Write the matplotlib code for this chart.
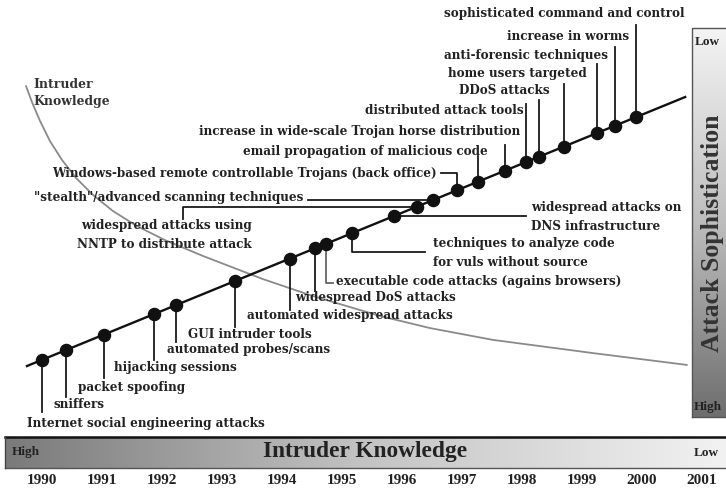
import numpy as np
import matplotlib
matplotlib.use("Agg")
import matplotlib.pyplot as plt
from matplotlib import transforms
from matplotlib.colors import LinearSegmentedColormap

# ---------------- data ----------------
event_labels = [
    "Internet social engineering attacks",
    "sniffers",
    "packet spoofing",
    "hijacking sessions",
    "automated probes/scans",
    "GUI intruder tools",
    "automated widespread attacks",
    "widespread DoS attacks",
    "executable code attacks (agains browsers)",
    "techniques to analyze code\nfor vuls without source",
    "widespread attacks on\nDNS infrastructure",
    "widespread attacks using\nNNTP to distribute attack",
    "\"stealth\"/advanced scanning techniques",
    "Windows-based remote controllable Trojans (back office)",
    "email propagation of malicious code",
    "increase in wide-scale Trojan horse distribution",
    "distributed attack tools",
    "DDoS attacks",
    "home users targeted",
    "anti-forensic techniques",
    "increase in worms",
    "sophisticated command and control",
]
event_years = [1990.0, 1990.4, 1991.03, 1991.87, 1992.23, 1993.22, 1994.13,
               1994.55, 1994.73, 1995.17, 1995.87, 1996.25, 1996.52, 1996.92,
               1997.27, 1997.72, 1998.07, 1998.28, 1998.7, 1999.25, 1999.55,
               1999.9]

# attack sophistication trend (arbitrary units)
trend_years = [1989.75, 2000.72]
trend_levels = [0.0, 100.0]

# intruder knowledge curve (same arbitrary units)
knowledge_years = [1989.733, 1989.833, 1989.967, 1990.133, 1990.333, 1990.567,
                   1990.85, 1991.183, 1991.583, 1992.05, 1992.683, 1993.683,
                   1994.517, 1995.633, 1996.467, 1997.517, 1999.183, 2000.75]
knowledge_levels = [104.1, 98.1, 91.1, 83.6, 76.6, 69.9, 63.6, 57.6, 52.0, 46.8,
                    40.9, 32.3, 26.0, 18.6, 14.1, 9.7, 4.8, 0.4]

year_ticks = list(range(1990, 2002))

# ---------------- layout (pixels, top-left origin) ----------------
W, H = 726, 493
label_pos = [
    ("left", 27, 423), ("left", 54, 405), ("left", 78, 387), ("left", 114, 368),
    ("left", 167, 350), ("left", 188, 334), ("left", 247, 316), ("left", 295, 298),
    ("left", 336, 282), ("left", 433, 244), ("left", 531, 208), ("right", 252, 226),
    ("right", 303, 197), ("right", 437, 173), ("right", 488, 151), ("right", 520, 131),
    ("right", 524, 111), ("right", 550, 91), ("right", 587, 74), ("right", 608, 55),
    ("right", 629, 37), ("right", 685, 13),
]
line_gap = 19
connectors = [
    [("v", 412)], [("v", 397)], [("v", 378)], [("v", 360)], [("v", 342)],
    [("v", 327)], [("v", 310)], [("v", 291)], [("v", 283), ("h", 333)],
    [("v", 252), ("h", 425)], [("h", 526)], [("h", 183), ("v", 219)],
    [("h", 308)], [("v", 173), ("h", 441)], [("v", 156)], [("v", 145)],
    [("v", 104)], [("v", 100)], [("v", 84)], [("v", 64)], [("v", 47)], [("v", 25)],
]

TXT = "#222222"
FONT = dict(family="DejaVu Serif", weight="bold", size=8.65, color=TXT)

fig = plt.figure(figsize=(W / 100, H / 100), dpi=100)
fig.patch.set_facecolor("white")

ax = fig.add_axes([0, 0, 1, 1])
ax.set_autoscale_on(False)
x0 = 1990 - 42 / 60
x1 = 1990 + (W - 42) / 60
lev_per_px = 100 / 269.0
ax.set_xlim(x0, x1)
ax.set_ylim((366 - H) * lev_per_px, 366 * lev_per_px)
ax.axis("off")

px = fig.add_axes([0, 0, 1, 1], zorder=-1)
px.set_xlim(0, W)
px.set_ylim(H, 0)
px.axis("off")
P = px.transData

# gradient bars
bottom_cmap = LinearSegmentedColormap.from_list("b", ["#7a7a7a", "#c4c4c4", "#f2f2f2"])
side_cmap = LinearSegmentedColormap.from_list("s", ["#f4f4f4", "#bdbdbd", "#6e6e6e"])
grad = np.linspace(0, 1, 256)
px.imshow(grad[None, :], extent=[5, W + 2, 468, 437], cmap=bottom_cmap,
          aspect="auto", zorder=0)
px.imshow(grad[:, None], extent=[692, W + 2, 417, 28], cmap=side_cmap,
          aspect="auto", zorder=0)
px.set_xlim(0, W)
px.set_ylim(H, 0)
px.plot([5, W], [437, 437], color="#111111", lw=1.8, zorder=1)
px.plot([5, W], [468, 468], color="#555555", lw=1.0, zorder=1)
px.plot([5, 5], [437, 468], color="#444444", lw=1.0, zorder=1)
px.plot([692, 692, W], [417, 28, 28], color="#555555", lw=1.0, zorder=1)
px.plot([692, W], [417, 417], color="#555555", lw=1.0, zorder=1)

# bar texts
px.text(12, 452.5, "High", family="Liberation Serif", weight="bold", size=9.5,
        color=TXT, ha="left", va="center")
px.text(365, 451, "Intruder Knowledge", family="Liberation Serif", weight="bold",
        size=16.8, color=TXT, ha="center", va="center")
px.text(719, 452.5, "Low", family="Liberation Serif", weight="bold", size=9.5,
        color=TXT, ha="right", va="center")
px.text(695, 42, "Low", family="Liberation Serif", weight="bold", size=9.5,
        color=TXT, ha="left", va="center")
px.text(694, 407, "High", family="Liberation Serif", weight="bold", size=9.5,
        color=TXT, ha="left", va="center")
px.text(712, 233, "Attack Sophistication", family="Liberation Serif", weight="bold",
        size=18.5, color="#333333", ha="center", va="center", rotation=90)

# year labels (x from data axis, y in pixels)
blend = transforms.blended_transform_factory(ax.transData, P)
for yr in year_ticks:
    ax.text(yr, 481, str(yr), transform=blend, family="Liberation Serif",
            weight="bold", size=11, color=TXT, ha="center", va="center")

# knowledge curve
ax.plot(knowledge_years, knowledge_levels, color="#8a8a8a", lw=1.3, zorder=2,
        solid_capstyle="round", solid_joinstyle="round")
ax.text(33, 85, "Intruder", transform=P, family="DejaVu Serif", weight="bold",
        size=8.9, color="#333333", ha="left", va="center")
ax.text(33, 102, "Knowledge", transform=P, family="DejaVu Serif", weight="bold",
        size=8.9, color="#333333", ha="left", va="center")

# trend line
ax.plot(trend_years, trend_levels, color="#111111", lw=1.7, zorder=3)
event_levels = np.interp(event_years, trend_years, trend_levels)

to_px = lambda x, y: P.inverted().transform(ax.transData.transform((x, y)))

for i, (lab, yr, lev) in enumerate(zip(event_labels, event_years, event_levels)):
    dx, dy = to_px(yr, lev)
    xs, ys = [dx], [dy]
    for kind, v in connectors[i]:
        if kind == "v":
            xs.append(xs[-1]); ys.append(v)
        else:
            xs.append(v); ys.append(ys[-1])
    col = "#666666" if i == 8 else "#1a1a1a"
    ax.plot(xs, ys, transform=P, color=col, lw=1.3, zorder=3)
    ha, tx, ty = label_pos[i]
    for j, line in enumerate(lab.split("\n")):
        ax.text(tx, ty + j * line_gap, line, transform=P, ha=ha, va="center",
                zorder=5, **FONT)

ax.plot(event_years, event_levels, "o", color="#111111", ms=8.7, zorder=4)

fig.savefig("out.png", dpi=100, facecolor="white")
